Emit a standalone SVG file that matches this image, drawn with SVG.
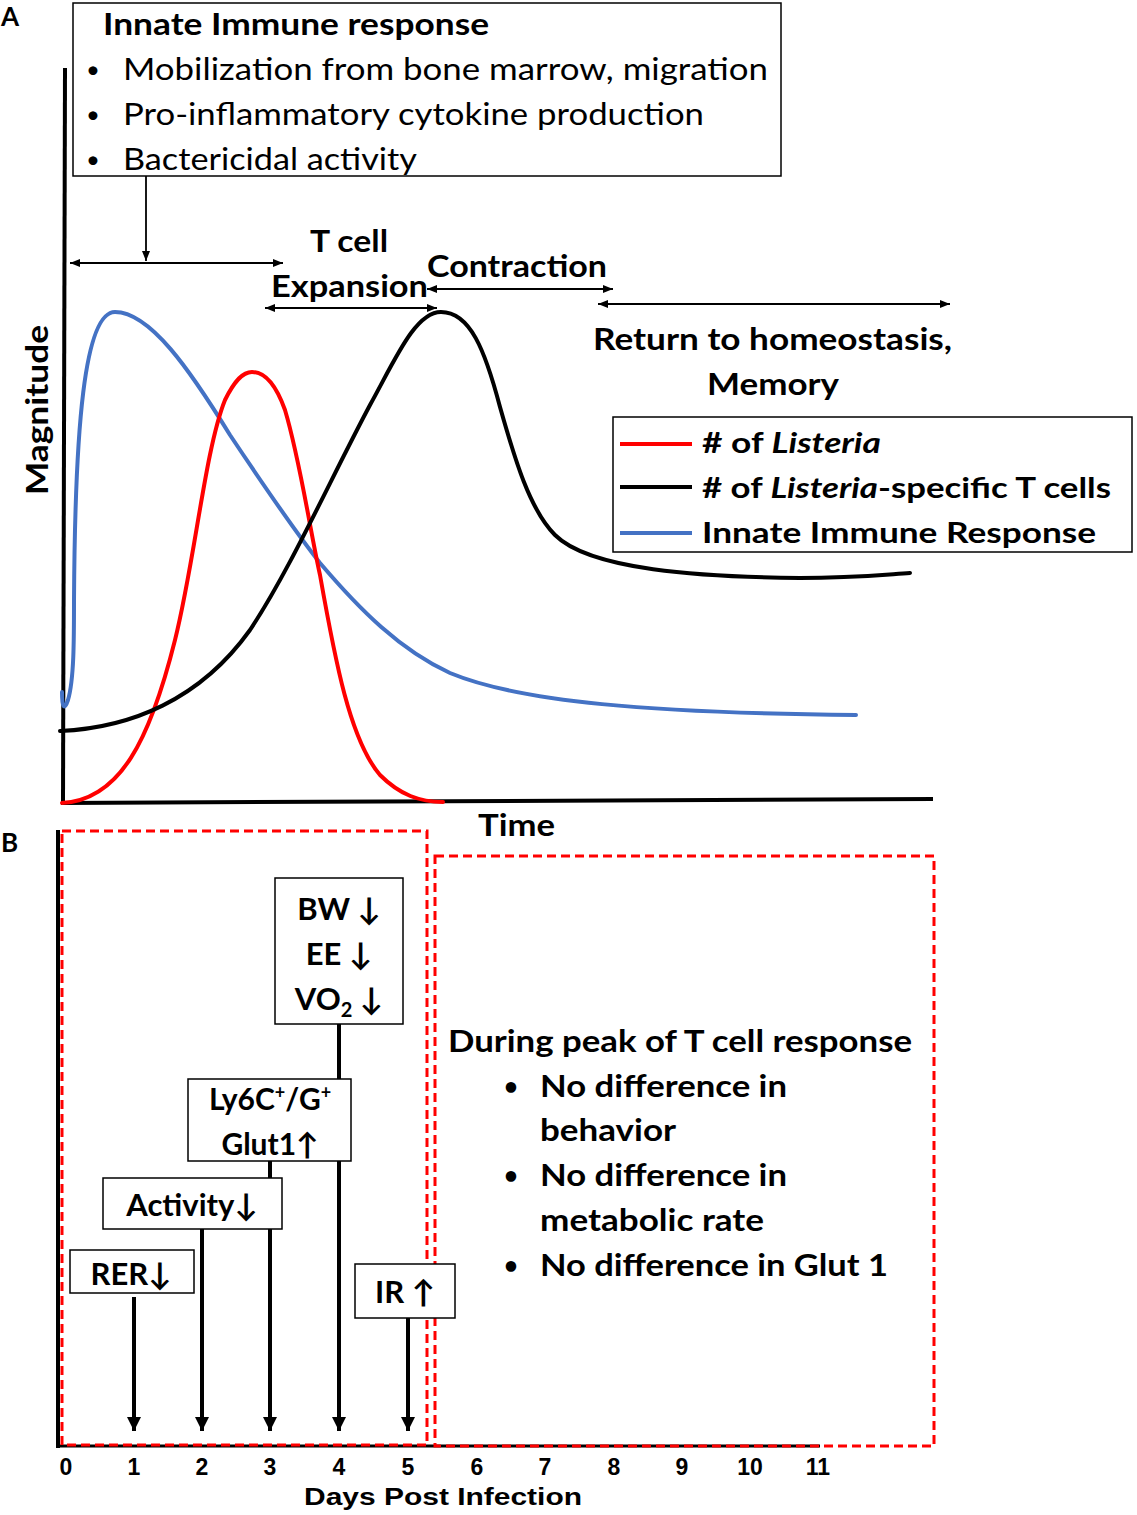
<svg xmlns="http://www.w3.org/2000/svg" width="1137" height="1515" viewBox="0 0 1137 1515">
<style>
.t{font-family:Lato,"Open Sans","Liberation Sans",sans-serif;fill:#000}
.b{font-weight:bold}
.ar{font-family:"Liberation Sans",Arial,sans-serif;font-weight:bold;fill:#000}
.box{fill:#fff;stroke:#000;stroke-width:1.5}
.thin{stroke:#000;stroke-width:1.8;fill:none}
.thick{stroke:#000;stroke-width:4;fill:none}
.dash{fill:none;stroke:#ff0000;stroke-width:3;stroke-dasharray:9,5}
.curve{fill:none;stroke-width:4;stroke-linecap:round}
</style>
<defs>
<marker id="ah" markerUnits="userSpaceOnUse" viewBox="0 0 10 8" refX="10" refY="4" markerWidth="10" markerHeight="8" orient="auto-start-reverse"><path d="M0,0 L10,4 L0,8 z" fill="#000"/></marker>
<marker id="ahb" markerUnits="userSpaceOnUse" viewBox="0 0 14 14" refX="14" refY="7" markerWidth="14" markerHeight="14" orient="auto"><path d="M0,0 L14,7 L0,14 z" fill="#000"/></marker>
</defs>
<rect width="1137" height="1515" fill="#fff"/>

<!-- Panel A -->
<text class="t b" x="1" y="26" font-size="26">A</text>
<g id="axesA">
<line class="thick" x1="65" y1="68" x2="63" y2="804"/>
<line class="thick" x1="61" y1="803" x2="933" y2="799"/>
<text class="t b" transform="translate(48,410) rotate(-90)" text-anchor="middle" font-size="30" textLength="170" lengthAdjust="spacingAndGlyphs">Magnitude</text>
<text class="t b" x="478" y="836" font-size="30" textLength="77" lengthAdjust="spacingAndGlyphs">Time</text>
</g>

<g id="innate-box">
<rect class="box" x="73" y="3" width="708" height="173"/>
<text class="t b" x="103" y="35" font-size="31" textLength="386" lengthAdjust="spacingAndGlyphs">Innate Immune response</text>
<text class="t" x="86" y="78" font-size="24">•</text>
<text class="t" x="123" y="80" font-size="31" textLength="645" lengthAdjust="spacingAndGlyphs">Mobilization from bone marrow, migration</text>
<text class="t" x="86" y="123" font-size="24">•</text>
<text class="t" x="123" y="125" font-size="31" textLength="581" lengthAdjust="spacingAndGlyphs">Pro-inflammatory cytokine production</text>
<text class="t" x="86" y="168" font-size="24">•</text>
<text class="t" x="123" y="170" font-size="31" textLength="294" lengthAdjust="spacingAndGlyphs">Bactericidal activity</text>
</g>

<g id="phase-labels">
<text class="t b" x="349" y="252" font-size="30" text-anchor="middle" textLength="78" lengthAdjust="spacingAndGlyphs">T cell</text>
<text class="t b" x="271" y="297" font-size="30" textLength="157" lengthAdjust="spacingAndGlyphs">Expansion</text>
<text class="t b" x="427" y="277" font-size="30" textLength="180" lengthAdjust="spacingAndGlyphs">Contraction</text>
<text class="t b" x="593" y="350" font-size="30" textLength="359" lengthAdjust="spacingAndGlyphs">Return to homeostasis,</text>
<text class="t b" x="773" y="395" font-size="30" text-anchor="middle" textLength="132" lengthAdjust="spacingAndGlyphs">Memory</text>
</g>

<g id="curves">
<path class="curve" stroke="#4472c4" d="M62,692 C62,706 64,712 68,700 C74,680 74,640 74,600 C75,430 84,312 115,312 C150,312 190,370 230,435 C260,480 290,525 320,563 C360,610 400,650 450,673 C520,702 650,713 856,715"/>
<path class="curve" stroke="#ff0000" d="M62,803 C120,800 150,740 175,640 C195,560 205,450 225,400 C235,380 243,372 252,372 C265,372 276,385 285,410 C300,460 310,530 320,575 C335,660 350,740 380,775 C400,795 420,802 443,802"/>
<path class="curve" stroke="#000" d="M60,731 C130,728 200,700 250,630 C290,570 330,480 370,405 C395,360 415,312 441,312 C470,312 485,350 500,407 C515,460 530,510 555,535 C590,570 700,577 800,578 C850,578 880,575 910,573"/>
</g>

<g id="legend">
<rect class="box" x="613" y="417" width="519" height="135"/>
<line x1="620" y1="444" x2="692" y2="444" stroke="#ff0000" stroke-width="4"/>
<line x1="620" y1="487" x2="692" y2="487" stroke="#000" stroke-width="4"/>
<line x1="620" y1="533" x2="692" y2="533" stroke="#4472c4" stroke-width="4"/>
<text class="t b" x="702" y="453" font-size="29" textLength="179" lengthAdjust="spacingAndGlyphs"># of <tspan font-style="italic">Listeria</tspan></text>
<text class="t b" x="702" y="498" font-size="29" textLength="409" lengthAdjust="spacingAndGlyphs"># of <tspan font-style="italic">Listeria</tspan>-specific T cells</text>
<text class="t b" x="702" y="543" font-size="29" textLength="394" lengthAdjust="spacingAndGlyphs">Innate Immune Response</text>
</g>

<g id="connectors-A">
<line class="thin" x1="146" y1="176" x2="146" y2="261" marker-end="url(#ah)"/>
<line class="thin" x1="70" y1="263" x2="283" y2="263" marker-start="url(#ah)" marker-end="url(#ah)"/>
<line class="thin" x1="265" y1="308" x2="437" y2="308" marker-start="url(#ah)" marker-end="url(#ah)"/>
<line class="thin" x1="427" y1="289" x2="613" y2="289" marker-start="url(#ah)" marker-end="url(#ah)"/>
<line class="thin" x1="598" y1="304" x2="950" y2="304" marker-start="url(#ah)" marker-end="url(#ah)"/>
</g>

<!-- Panel B -->
<text class="t b" x="1" y="852" font-size="26">B</text>
<g id="axesB">
<line class="thick" x1="58" y1="830" x2="58" y2="1448"/>
<line x1="58" y1="1446" x2="820" y2="1446" stroke="#000" stroke-width="3"/>
<g class="ar" font-size="23" text-anchor="middle">
<text x="66" y="1475">0</text><text x="134" y="1475">1</text><text x="202" y="1475">2</text><text x="270" y="1475">3</text><text x="339" y="1475">4</text><text x="408" y="1475">5</text><text x="477" y="1475">6</text><text x="545" y="1475">7</text><text x="614" y="1475">8</text><text x="682" y="1475">9</text><text x="750" y="1475">10</text><text x="818" y="1475">11</text>
</g>
<text class="ar" x="443" y="1505" font-size="23" text-anchor="middle" textLength="278" lengthAdjust="spacingAndGlyphs">Days Post Infection</text>
</g>

<g id="dashed-regions">
<rect class="dash" x="62" y="831" width="365" height="614"/>
<rect class="dash" x="435" y="856" width="499" height="590"/>
</g>

<g id="connectors-B">
<line class="thick" x1="134" y1="1297" x2="134" y2="1431" marker-end="url(#ahb)"/>
<line class="thick" x1="202" y1="1229" x2="202" y2="1431" marker-end="url(#ahb)"/>
<line class="thick" x1="270" y1="1161" x2="270" y2="1431" marker-end="url(#ahb)"/>
<line class="thick" x1="339" y1="1024" x2="339" y2="1431" marker-end="url(#ahb)"/>
<line class="thick" x1="408" y1="1318" x2="408" y2="1431" marker-end="url(#ahb)"/>
</g>

<g id="bw-box">
<rect class="box" x="275" y="878" width="128" height="146"/>
<text class="t b" x="339" y="920" font-size="31" text-anchor="middle">BW ↓</text>
<text class="t b" x="339" y="965" font-size="31" text-anchor="middle">EE ↓</text>
<text class="t b" x="339" y="1010" font-size="31" text-anchor="middle">VO<tspan font-size="20" dy="7">2</tspan><tspan dy="-7"> ↓</tspan></text>
</g>
<g id="ly6c-box">
<rect class="box" x="188" y="1079" width="163" height="82"/>
<text class="t b" x="270" y="1110" font-size="30" text-anchor="middle">Ly6C<tspan font-size="18" dy="-11">+</tspan><tspan dy="11">/G</tspan><tspan font-size="18" dy="-11">+</tspan></text>
<text class="t b" x="270" y="1155" font-size="30" text-anchor="middle">Glut1↑</text>
</g>
<g id="activity-box">
<rect class="box" x="103" y="1178" width="179" height="51"/>
<text class="t b" x="192" y="1216" font-size="31" text-anchor="middle">Activity↓</text>
</g>
<g id="rer-box">
<rect class="box" x="70" y="1250" width="124" height="43"/>
<text class="t b" x="131" y="1285" font-size="31" text-anchor="middle">RER↓</text>
</g>
<g id="ir-box">
<rect class="box" x="355" y="1264" width="100" height="54"/>
<text class="t b" x="405" y="1303" font-size="31" text-anchor="middle">IR ↑</text>
</g>

<g id="peak-text">
<text class="t b" x="448" y="1052" font-size="31" textLength="464" lengthAdjust="spacingAndGlyphs">During peak of T cell response</text>
<text class="t b" x="504" y="1095" font-size="24">•</text>
<text class="t b" x="540" y="1097" font-size="31" textLength="247" lengthAdjust="spacingAndGlyphs">No difference in</text>
<text class="t b" x="540" y="1141" font-size="31" textLength="136" lengthAdjust="spacingAndGlyphs">behavior</text>
<text class="t b" x="504" y="1184" font-size="24">•</text>
<text class="t b" x="540" y="1186" font-size="31" textLength="247" lengthAdjust="spacingAndGlyphs">No difference in</text>
<text class="t b" x="540" y="1231" font-size="31" textLength="224" lengthAdjust="spacingAndGlyphs">metabolic rate</text>
<text class="t b" x="504" y="1274" font-size="24">•</text>
<text class="t b" x="540" y="1276" font-size="31" textLength="348" lengthAdjust="spacingAndGlyphs">No difference in Glut 1</text>
</g>
</svg>
